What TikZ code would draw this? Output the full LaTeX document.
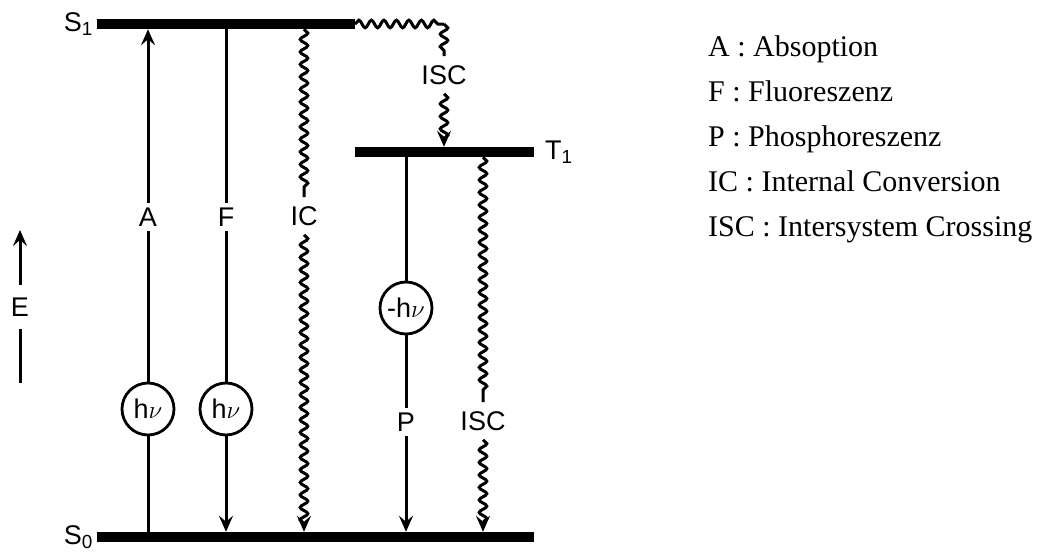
\documentclass[tikz,border=0pt]{standalone}
\usepackage{fontspec}
\setmainfont{Liberation Serif}
\setsansfont{Liberation Sans}
\usetikzlibrary{arrows.meta,positioning,decorations.pathmorphing}
\tikzset{
    nivel/.style={
        rectangle,                % barra del nivel de energía
        fill=black,               % barra negra maciza
        inner sep=0pt,
        outer sep=0pt,
        minimum height=10.5pt     % grosor de la barra
    },
    etiqueta/.style={
        font=\sffamily\fontsize{27}{32}\selectfont, % letra sin serifa
        inner sep=5pt             % deja hueco en la línea que atraviesa
    },
    etiquetaonda/.style={
        etiqueta,
        inner sep=9pt             % hueco un poco mayor para las ondas
    },
    foton/.style={
        circle,                   % círculo del fotón
        draw,
        line width=2.8pt,
        minimum size=52pt,
        inner sep=0pt,
        font=\sffamily\fontsize{27}{32}\selectfont
    },
    flecha/.style={
        line width=3pt            % transición radiativa
    },
    onda/.style={
        line width=3pt,           % transición no radiativa (ondulada)
        decorate,
        decoration={snake, segment length=12.5pt, amplitude=3.8pt, post length=7pt}
    },
    leyenda/.style={
        font=\fontsize{30}{36}\selectfont, % letra con serifa
        inner sep=0pt,
        anchor=base west
    }
}
\begin{document}
\begin{tikzpicture}[x=1pt, y=-1pt, >={Stealth[length=16pt, width=14pt, inset=6pt]}]
    \useasboundingbox (0,0) rectangle (1053,552);

    \node[nivel, minimum width=258pt] (S1) at (226,24) {};
    \node[nivel, minimum width=179pt] (T1) at (444.5,152) {};
    \node[nivel, minimum width=437pt] (S0) at (315.5,537) {};

    \node[etiqueta, inner sep=2pt, left=2pt of S1.west] (labS1) {S\textsubscript{1}};
    \node[etiqueta, inner sep=2pt, right=9pt of T1.east] (labT1) {T\textsubscript{1}};
    \node[etiqueta, inner sep=2pt, left=2pt of S0.west] (labS0) {S\textsubscript{0}};

    \node[foton] (fotonA) at (148,409) {h$\nu$};
    \node[foton] (fotonF) at (226,409) {h$\nu$};
    \node[foton] (fotonP) at (406,308) {-h$\nu$};

    \node[etiqueta] (labA) at (148,217) {A};
    \node[etiqueta] (labF) at (226,217) {F};
    \node[etiquetaonda] (labIC) at (304,216) {IC};
    \node[etiqueta] (labP) at (406,422) {P};
    \node[etiquetaonda] (labISC) at (483,421) {ISC};
    \node[etiquetaonda] (labISCt) at (444,75) {ISC};
    \coordinate (esquina) at (444,24);

    \draw[flecha] (S0.north -| fotonA) -- (fotonA);
    \draw[flecha] (fotonA) -- (labA);
    \draw[flecha,->] (labA) -- (labA |- S1.south);

    \draw[flecha] (S1.south -| labF) -- (labF);
    \draw[flecha] (labF) -- (fotonF);
    \draw[flecha,->] (fotonF) -- (fotonF |- S0.north);

    \draw[onda] (S1.south -| labIC) -- (labIC);
    \draw[onda,->] (labIC) -- (labIC |- S0.north);

    \draw[onda, decoration={post length=0pt}] (S1.east) -- (esquina);
    \draw[onda, decoration={post length=0pt}] (esquina) -- (labISCt);
    \draw[onda,->] (labISCt) -- (labISCt |- T1.north);

    \draw[flecha] (T1.south -| fotonP) -- (fotonP);
    \draw[flecha] (fotonP) -- (labP);
    \draw[flecha,->] (labP) -- (labP |- S0.north);

    \draw[onda] (T1.south -| labISC) -- (labISC);
    \draw[onda,->] (labISC) -- (labISC |- S0.north);

    \node[etiqueta, inner sep=13pt] (E) at (20,307) {E};
    \coordinate (Earriba) at (20,230);
    \coordinate (Eabajo) at (20,383);
    \draw[flecha,->] (E) -- (Earriba);
    \draw[flecha] (E) -- (Eabajo);

    \node[leyenda] (legA) at (708,56) {A : Absoption};
    \node[leyenda, below=45pt of legA.base west, anchor=base west] (legF) {F : Fluoreszenz};
    \node[leyenda, below=45pt of legF.base west, anchor=base west] (legP) {P : Phosphoreszenz};
    \node[leyenda, below=45pt of legP.base west, anchor=base west] (legIC) {IC : Internal Conversion};
    \node[leyenda, below=45pt of legIC.base west, anchor=base west] (legISC) {ISC : Intersystem Crossing};
\end{tikzpicture}
\end{document}
